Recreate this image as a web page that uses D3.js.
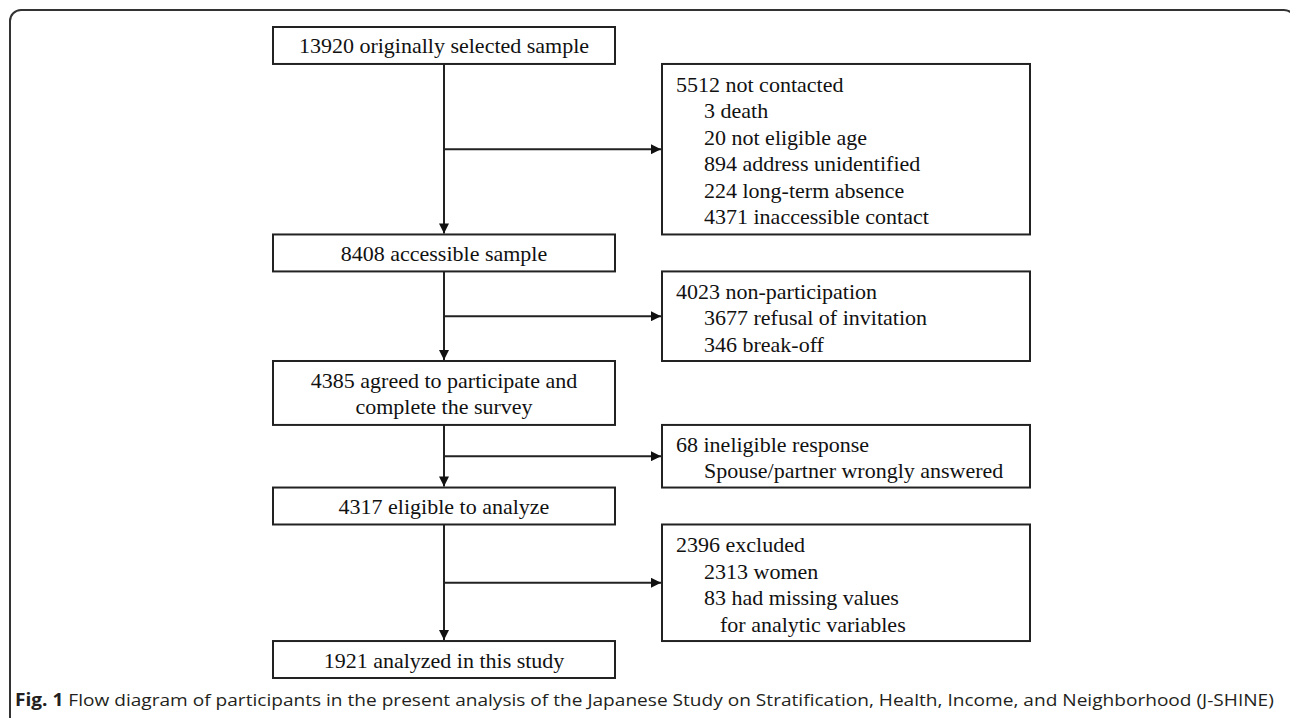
<!DOCTYPE html>
<html>
<head>
<meta charset="utf-8">
<script src="https://cdn.jsdelivr.net/npm/d3@7"></script>
<style>
  html, body { margin: 0; padding: 0; background: #fff; }
  svg text.box { font: 22px "Liberation Serif", "Times New Roman", serif; fill: #111; }
  svg text.caption { font-size: 17px; font-family: "Open Sans", "DejaVu Sans", sans-serif; fill: #231f20; }
</style>
</head>
<body>
<svg id="chart" width="1290" height="718"></svg>
<script>
// stages down the left column
let mainLabels = [
  ["13920 originally selected sample"],
  ["8408 accessible sample"],
  ["4385 agreed to participate and", "complete the survey"],
  ["4317 eligible to analyze"],
  ["1921 analyzed in this study"]
];

// exclusions on the right, one list per stage
let sideLabels = [
  ["5512 not contacted", "3 death", "20 not eligible age", "894 address unidentified",
   "224 long-term absence", "4371 inaccessible contact"],
  ["4023 non-participation", "3677 refusal of invitation", "346 break-off"],
  ["68 ineligible response", "Spouse/partner wrongly answered"],
  ["2396 excluded", "2313 women", "83 had missing values", "for analytic variables"]
];

// indent level of each line above
let sideLevels = [
  [0, 1, 1, 1, 1, 1],
  [0, 1, 1],
  [0, 1],
  [0, 1, 1, 2]
];

let captionBold = "Fig. 1";
let captionText = " Flow diagram of participants in the present analysis of the Japanese Study on Stratification, Health, Income, and Neighborhood (J-SHINE)";

let svg = d3.select("#chart");

// frame
svg.append("rect")
  .attr("x", 10)
  .attr("y", 10)
  .attr("width", 1285)
  .attr("height", 800)
  .attr("rx", 11)
  .attr("fill", "none")
  .attr("stroke", "#333")
  .attr("stroke-width", 2);

svg.append("defs").append("marker")
  .attr("id", "head")
  .attr("markerUnits", "userSpaceOnUse")
  .attr("viewBox", "0 0 10 10")
  .attr("refX", 10)
  .attr("refY", 5)
  .attr("markerWidth", 11)
  .attr("markerHeight", 10)
  .attr("orient", "auto")
  .append("path")
  .attr("d", "M0,0L10,5L0,10Z")
  .attr("fill", "#111");

// layout in text rows, then mapped to pixels
let mainPad = 0.37, sidePad = 0.32;
let mainRows = [], sideRows = [], cursor = 0;
mainLabels.forEach((m, i) => {
  mainRows.push([cursor, cursor + m.length + mainPad]);
  cursor += m.length + mainPad;
  if (sideLabels[i]) {
    sideRows.push([cursor, cursor + sideLabels[i].length + sidePad]);
    cursor += sideLabels[i].length + sidePad;
  }
});

let y = d3.scaleLinear().domain([0, cursor]).range([27, 678]);
let lineH = y(1) - y(0);
let xMain = d3.scaleLinear().domain([0, 1]).range([273, 615]);
let xSide = d3.scaleLinear().domain([0, 1]).range([662, 1030]);
let indent = [676, 704, 720];
let spine = xMain(0.5);

// main boxes
let mg = svg.selectAll("g.main")
  .data(mainLabels)
  .enter()
  .append("g")
  .attr("class", "main");

mg.append("rect")
  .attr("x", xMain(0))
  .attr("y", (d, i) => y(mainRows[i][0]))
  .attr("width", xMain(1) - xMain(0))
  .attr("height", (d, i) => y(mainRows[i][1]) - y(mainRows[i][0]))
  .attr("fill", "#fff")
  .attr("stroke", "#222")
  .attr("stroke-width", 2);

mg.each(function(d, i) {
  let mid = (y(mainRows[i][0]) + y(mainRows[i][1])) / 2;
  d3.select(this).selectAll("text")
    .data(d)
    .enter()
    .append("text")
    .attr("class", "box")
    .attr("text-anchor", "middle")
    .attr("x", spine)
    .attr("y", (t, j) => mid + 8 + (j - (d.length - 1) / 2) * 26)
    .text(t => t);
});

// side boxes
let sg = svg.selectAll("g.side")
  .data(sideLabels)
  .enter()
  .append("g")
  .attr("class", "side");

sg.append("rect")
  .attr("x", xSide(0))
  .attr("y", (d, i) => y(sideRows[i][0]))
  .attr("width", xSide(1) - xSide(0))
  .attr("height", (d, i) => y(sideRows[i][1]) - y(sideRows[i][0]))
  .attr("fill", "#fff")
  .attr("stroke", "#222")
  .attr("stroke-width", 2);

sg.each(function(d, i) {
  let mid = (y(sideRows[i][0]) + y(sideRows[i][1])) / 2;
  d3.select(this).selectAll("text")
    .data(d)
    .enter()
    .append("text")
    .attr("class", "box")
    .attr("x", (t, j) => indent[sideLevels[i][j]])
    .attr("y", (t, j) => mid + 9 + (j - (d.length - 1) / 2) * 26.5)
    .text(t => t);
});

// vertical arrows between stages
svg.selectAll("line.down")
  .data(mainRows.slice(1))
  .enter()
  .append("line")
  .attr("class", "down")
  .attr("x1", spine)
  .attr("x2", spine)
  .attr("y1", (d, i) => y(mainRows[i][1]))
  .attr("y2", d => y(d[0]) - 1)
  .attr("stroke", "#222")
  .attr("stroke-width", 2)
  .attr("marker-end", "url(#head)");

// horizontal arrows to exclusions
svg.selectAll("line.out")
  .data(sideRows)
  .enter()
  .append("line")
  .attr("class", "out")
  .attr("x1", spine)
  .attr("x2", xSide(0) - 1)
  .attr("y1", d => (y(d[0]) + y(d[1])) / 2)
  .attr("y2", d => (y(d[0]) + y(d[1])) / 2)
  .attr("stroke", "#222")
  .attr("stroke-width", 2)
  .attr("marker-end", "url(#head)");

// caption, squeezed to the printed width
let cap = svg.append("text")
  .attr("class", "caption")
  .attr("x", 0)
  .attr("y", 0);
cap.append("tspan").attr("font-weight", "bold").text(captionBold);
cap.append("tspan").text(captionText);
let w = cap.node().getComputedTextLength();
cap.attr("transform", "translate(15,706) scale(" + (1260 / w) + ",1)");
</script>
</body>
</html>
